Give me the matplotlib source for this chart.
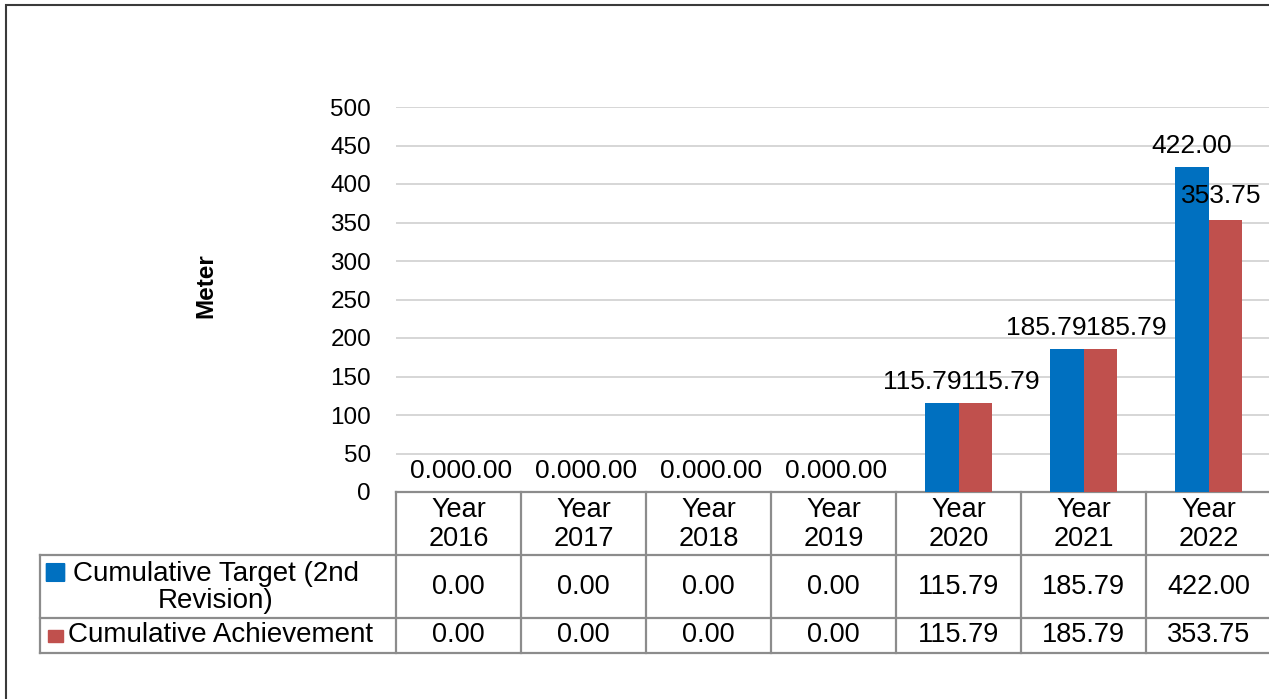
import matplotlib.pyplot as plt
import matplotlib.transforms as mtransforms
from matplotlib.patches import Rectangle, FancyBboxPatch
import numpy as np

plt.rcParams['font.family'] = ['Liberation Sans', 'DejaVu Sans']

# data
years = ['Year\n2016', 'Year\n2017', 'Year\n2018', 'Year\n2019',
         'Year\n2020', 'Year\n2021', 'Year\n2022']
target = [0.00, 0.00, 0.00, 0.00, 115.79, 185.79, 422.00]
achievement = [0.00, 0.00, 0.00, 0.00, 115.79, 185.79, 353.75]
series_names = ['Cumulative Target (2nd\nRevision)', 'Cumulative Achievement']
yticks = [0, 50, 100, 150, 200, 250, 300, 350, 400, 450, 500]

blue = '#0070C0'
red = '#C0504D'
line_col = '#8c8c8c'

W, H = 1269, 699
fig = plt.figure(figsize=(W / 100, H / 100), dpi=100)

def fx(px):
    return px / W

def fy(py):
    return 1 - py / H

# plot area (right edge runs slightly past the image, like the reference)
ax = fig.add_axes([fx(396), fy(492), fx(1271) - fx(396), (492 - 107) / H])
x = np.arange(len(years))
w = 0.27
ax.bar(x - w / 2, target, w, color=blue, zorder=3)
ax.bar(x + w / 2, achievement, w, color=red, zorder=3)
ax.set_xlim(-0.5, len(years) - 0.5)
ax.set_ylim(0, 500)
ax.set_yticks(yticks)
ax.set_xticks([])
ax.tick_params(axis='y', length=0, pad=18, labelsize=17.5)
for s in ax.spines.values():
    s.set_visible(False)
ax.yaxis.grid(True, color='#d0d0d0', lw=1.2, zorder=0)
ax.set_axisbelow(True)

# data labels
for i in range(len(years)):
    t, a = target[i], achievement[i]
    kw = dict(textcoords='offset points', fontsize=19, va='baseline',
              annotation_clip=False)
    if abs(t - a) < 40:
        top = max(t, a)
        ax.annotate(f'{t:.2f}', (i, top), xytext=(2, 10), ha='right', **kw)
        ax.annotate(f'{a:.2f}', (i, top), xytext=(2, 10), ha='left', **kw)
    else:
        ax.annotate(f'{t:.2f}', (i - w / 2, t), xytext=(0, 10), ha='center', **kw)
        ax.annotate(f'{a:.2f}', (i + w / 2, a), xytext=(-3, 12), ha='center', **kw)

# y label
fig.text(fx(206), fy(286), 'Meter', rotation=90, ha='center', va='center',
         fontsize=17.5, fontweight='bold')

# data table below the axis
tr = mtransforms.blended_transform_factory(ax.transData, fig.transFigure)
y_head, y_r1, y_r2, y_end = 492, 555, 618, 653
lw = 1.6
xr = len(years) - 0.5 + 0.1
ax.plot([-0.5, xr], [fy(y_head)] * 2, color=line_col, lw=lw, transform=tr, clip_on=False)
for yy in (y_r1, y_r2, y_end):
    fig.add_artist(plt.Line2D([fx(40), 1.01], [fy(yy)] * 2, color=line_col, lw=lw,
                              transform=fig.transFigure))
fig.add_artist(plt.Line2D([fx(40), fx(40)], [fy(y_r1), fy(y_end)], color=line_col, lw=lw,
                          transform=fig.transFigure))
for b in np.arange(len(years) + 1) - 0.5:
    ax.plot([b, b], [fy(y_head), fy(y_end)], color=line_col, lw=lw, transform=tr,
            clip_on=False)

for i, lab in enumerate(years):
    ax.text(i, fy((y_head + y_r1) / 2 + 1), lab, transform=tr, ha='center', va='center',
            fontsize=19.5, linespacing=1.12)
    ax.text(i, fy((y_r1 + y_r2) / 2 + 1), f'{target[i]:.2f}', transform=tr,
            ha='center', va='center', fontsize=19.5)
    ax.text(i, fy((y_r2 + y_end) / 2), f'{achievement[i]:.2f}', transform=tr,
            ha='center', va='center', fontsize=19.5)

# row headers with legend keys
fig.text(fx(216), fy((y_r1 + y_r2) / 2 + 1), series_names[0], ha='center', va='center',
         fontsize=20, linespacing=1.06, multialignment='center')
fig.text(fx(68), fy((y_r2 + y_end) / 2), series_names[1], ha='left', va='center',
         fontsize=20)
fig.add_artist(FancyBboxPatch((fx(47), fy(581)), fx(17), (581 - 564) / H,
                              boxstyle='round,pad=0.0005', color=blue,
                              transform=fig.transFigure))
fig.add_artist(Rectangle((fx(48), fy(642)), fx(15), (642 - 630) / H, color=red,
                         transform=fig.transFigure))

# outer chart border
fig.add_artist(Rectangle((fx(6), -0.1), 1.2, fy(5) + 0.1, fill=False,
                         edgecolor='#3a3a3a', lw=1.5, transform=fig.transFigure))

fig.savefig('out.png', dpi=100)
